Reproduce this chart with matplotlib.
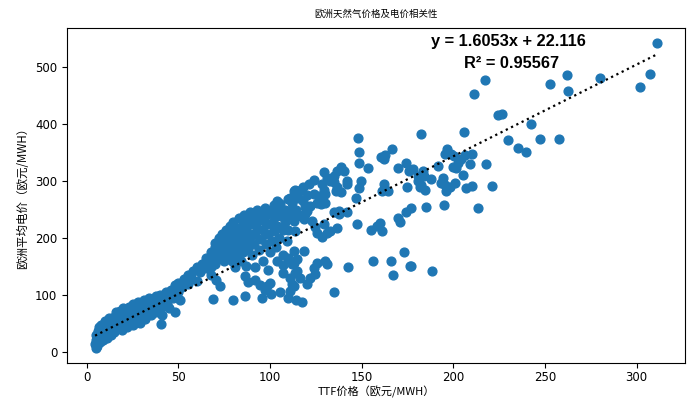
import matplotlib
matplotlib.use("Agg")
import matplotlib.pyplot as plt
import numpy as np

# TTF gas price (EUR/MWh) vs average European power price (EUR/MWh)
# low cluster
ttf_low = [4.5, 5, 5, 5.5, 6, 4.8, 6, 6.5, 7, 7,
           8, 8, 9, 9, 10, 10, 11, 11, 12, 12, 12,
           13, 14, 14, 15, 15, 16, 16, 17, 17, 18, 18,
           19, 20, 20, 21, 22, 22, 23, 24, 24, 25, 25, 25,
           26, 27, 28, 28, 29, 30, 30, 31, 32, 32,
           33, 34, 35, 35, 36, 37, 38, 38, 39, 40, 40,
           40.5, 41, 42, 43, 44, 45, 46, 47, 48, 48, 50, 50, 51,
           52, 53, 55, 55, 57, 58, 60, 60, 62, 63, 65, 65, 67, 68, 68, 70, 70]
power_low = [15, 22, 30, 12, 38, 8, 25, 45, 18, 32,
             28, 48, 22, 38, 30, 55, 42, 25, 35, 60, 48,
             30, 52, 40, 62, 35, 48, 70, 42, 58, 50, 72,
             40, 60, 78, 50, 68, 45, 80, 55, 70, 62, 85, 48,
             75, 58, 88, 68, 52, 80, 62, 92, 72, 58,
             85, 95, 75, 65, 90, 82, 98, 70, 88, 100, 78,
             50, 65, 92, 105, 85, 78, 110, 95, 70, 118, 105, 122, 92,
             115, 128, 120, 135, 130, 142, 125, 150, 140, 155, 148, 165, 160, 175, 150, 170, 185]

# dense core
ttf_core = [70, 70, 71, 72, 72, 73, 74, 74, 75, 75, 76, 76,
            77, 77, 78, 78, 79, 79, 80, 80, 80, 81, 81, 82, 82, 82,
            83, 83, 84, 84, 85, 85, 85, 86, 86, 87, 87, 88, 88, 88,
            89, 89, 90, 90, 91, 91, 92, 92, 93, 93, 94, 94, 95, 95,
            96, 96, 97, 97, 98, 98, 99, 100, 100, 100, 101, 102, 102, 102,
            103, 104, 104, 105, 105, 106, 107, 107, 108, 108, 109, 110, 110, 110]
power_core = [155, 192, 178, 165, 200, 185, 172, 208, 195, 160, 215, 182,
              170, 200, 188, 222, 160, 210, 178, 195, 228, 150, 205, 185, 218, 170,
              235, 198, 160, 212, 188, 225, 175, 240, 200, 152, 218, 182, 232, 195,
              208, 245, 170, 225, 190, 238, 205, 150, 250, 218, 180, 232, 198, 245,
              215, 160, 252, 228, 190, 240, 208, 175, 248, 225, 195, 258, 235, 212,
              185, 245, 222, 200, 262, 238, 170, 215, 250, 228, 195, 268, 240, 215]

# spread-out points
ttf_sparse = [311, 307.5, 302, 280, 262, 262.6, 252.5, 217, 211.4, 224.2, 226.4, 242.3,
              182.4, 205.7, 230, 247, 257.5, 235, 239.6,
              196.7, 195.2, 198.5, 200.4, 206.2, 209.9, 204.4, 202.6, 199.8, 201.6, 209, 217.6,
              191.6, 177.8, 183.3, 180.5, 183.9, 205.3, 187.9, 194.3, 193, 195.2, 198, 195.8,
              200.7, 180.6, 181.5, 184.3, 182.4, 207, 210, 221, 185, 195, 213.5, 177, 177, 188.5,
              148.2, 148.5, 148.5, 153.5, 160.4, 162.6, 161.9, 166.5, 170, 174.2, 176, 174.7,
              162.3, 161.3, 164.1, 174.2, 170, 171, 160, 158.2, 160.8, 155, 147.6, 172.9,
              155.9, 165.9, 176.4, 166.9, 142.7, 134.8,
              123.8, 129.3, 130.8, 132.6, 134.8, 136.6, 138.5, 140.3, 134.8, 136.6, 138.5,
              141.8, 142.1, 128.4, 129.3, 130.2, 126.5, 123.8, 128.4, 127.5, 125.7, 130.2,
              112.8, 115.6, 113.7, 120.1, 121.9, 119.2, 118.3, 114.7, 111, 112.8, 113.7,
              122.9, 124.7, 125.7, 128.4, 131.1, 132.6, 136.6, 129.3, 137.5, 134.8, 142,
              146.7, 149.5, 148.5, 135.7, 137.5,
              112.8, 118.3, 114.7, 111.9, 114.7, 116.5, 122, 125.7, 130.2, 131.1, 123.8,
              124.7, 120.1, 111.9, 111, 117.4,
              68.9, 79.8, 86.3, 95.4, 100.4, 105.5, 109.5, 114.3, 72.5, 86.3, 88.1, 91.8,
              94.5, 98.5, 100, 97.3, 70.3, 68, 99.1, 103.7, 107.3, 110, 112.8, 107.3, 111,
              113.7, 112.8,
              112, 114, 115, 116, 118, 118, 120, 121, 119, 105.5, 111, 113.7, 115.5, 109,
              103.7, 98]
power_sparse = [541, 487, 465, 480, 486, 458, 469, 476, 452, 416, 417, 399,
                382, 386, 372, 374, 374, 358, 351,
                355, 347, 347, 343, 345, 347, 338, 332, 325, 322, 330, 329,
                326, 320, 317, 309, 309, 311, 303, 305, 297, 293, 290, 283,
                297, 300, 289, 285, 293, 288, 291, 291, 254, 258, 252, 253, 151, 143,
                375, 350, 331, 322, 341, 346, 338, 355, 322, 331, 318, 290,
                294, 282, 283, 245, 236, 229, 227, 221, 213, 215, 224, 176,
                160, 160, 151, 135, 149, 105,
                301, 315, 305, 300, 309, 318, 325, 318, 298, 289, 280,
                300, 294, 294, 285, 278, 274, 277, 265, 260, 262, 262,
                282, 282, 271, 248, 256, 243, 233, 239, 247, 230, 212,
                230, 219, 209, 202, 209, 212, 217, 224, 248, 246, 245,
                271, 300, 288, 282, 242,
                177, 177, 163, 154, 142, 130, 130, 157, 160, 154, 148,
                137, 119, 119, 107, 89,
                94, 91, 98, 96, 102, 106, 96, 91, 116, 133, 123, 127,
                118, 116, 122, 110, 127, 136, 145, 160, 153, 165, 157, 139, 130,
                139, 116,
                262, 250, 270, 240, 265, 290, 275, 295, 255, 259, 271, 285, 282, 247,
                265, 247]

slope = 1.6053
intercept = 22.116
r2 = 0.95567

x = np.array(ttf_low + ttf_core + ttf_sparse)
y = np.array(power_low + power_core + power_sparse)

plt.rcParams['font.family'] = ['Noto Sans CJK SC', 'DejaVu Sans']

fig = plt.figure(figsize=(6.94, 3.99), dpi=100)
ax = fig.add_axes([0.0965, 0.090, 0.8905, 0.840])

ax.scatter(x, y, s=40, color='#1f77b4', zorder=2)

xs = np.array([x.min(), x.max()])
ax.plot(xs, slope * xs + intercept, color='black', linestyle=':', linewidth=1.6, zorder=3)

ax.text(0.714, 0.96, 'y = %.4fx + %.3f' % (slope, intercept), transform=ax.transAxes,
        ha='center', va='center', fontsize=11.8, fontweight='bold', family='Liberation Sans')
ax.text(0.72, 0.895, 'R² = %.5f' % r2, transform=ax.transAxes,
        ha='center', va='center', fontsize=11.8, fontweight='bold', family='Liberation Sans')

ax.set_xticks([0, 50, 100, 150, 200, 250, 300])
ax.set_yticks([0, 100, 200, 300, 400, 500])
ax.tick_params(labelsize=8.5)
ax.tick_params(axis='x', pad=2.5)
for lab in ax.get_xticklabels() + ax.get_yticklabels():
    lab.set_family('DejaVu Sans')

ax.set_title('欧洲天然气价格及电价相关性', fontsize=6.8, pad=8)
ax.set_xlabel('TTF价格（欧元/MWH）', fontsize=8, labelpad=1)
ax.set_ylabel('欧洲平均电价（欧元/MWH）', fontsize=8.3, labelpad=4)

fig.savefig('out.png', dpi=100)
